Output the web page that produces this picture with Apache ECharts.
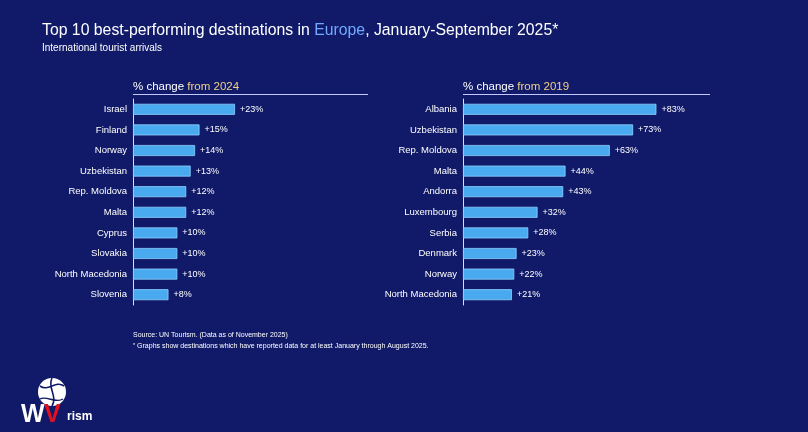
<!DOCTYPE html>
<html>
<head>
<meta charset="utf-8">
<script src="https://cdn.jsdelivr.net/npm/echarts@6/dist/echarts.min.js"></script>
<style>
  html, body { margin: 0; padding: 0; background: #101a68; }
  #main { width: 808px; height: 432px; }
</style>
</head>
<body>
<div id="main"></div>
<script>
// data
var left_names = ['Israel', 'Finland', 'Norway', 'Uzbekistan', 'Rep. Moldova', 'Malta', 'Cyprus', 'Slovakia', 'North Macedonia', 'Slovenia'];
var left_values = [23, 15, 14, 13, 12, 12, 10, 10, 10, 8];
var right_names = ['Albania', 'Uzbekistan', 'Rep. Moldova', 'Malta', 'Andorra', 'Luxembourg', 'Serbia', 'Denmark', 'Norway', 'North Macedonia'];
var right_values = [83, 73, 63, 44, 43, 32, 28, 23, 22, 21];

var FONT = '"Liberation Sans", Arial, sans-serif';
var BAR = '#4aaaf0';
var dom = document.getElementById('main');
var myChart = echarts.init(dom, null, { renderer: 'canvas' });

function yAxisFor(names, idx) {
    return {
        type: 'category',
        gridIndex: idx,
        data: names,
        inverse: true,
        axisLine: { show: true, lineStyle: { color: '#d8dcff', width: 1 } },
        axisTick: { show: false },
        axisLabel: { color: '#ffffff', fontSize: 9.5, fontFamily: FONT, margin: 6 }
    };
}
function barSeries(vals, idx) {
    return {
        type: 'bar',
        xAxisIndex: idx,
        yAxisIndex: idx,
        data: vals,
        barWidth: 11,
        itemStyle: { color: BAR, borderColor: '#8fd2ff', borderWidth: 0.8 },
        label: {
            show: true,
            position: 'right',
            distance: 5,
            color: '#ffffff',
            fontSize: 9,
            fontFamily: FONT,
            formatter: function (p) { return '+' + p.value + '%'; }
        }
    };
}

var option = {
    backgroundColor: '#101a68',
    animation: false,
    title: [
        {
            left: 42, top: 22.5, padding: 0,
            text: 'Top 10 best-performing destinations in {eu|Europe}, January-September 2025*',
            textStyle: {
                color: '#ffffff', fontSize: 15.8, fontWeight: 'normal', fontFamily: FONT,
                rich: { eu: { color: '#72a8ff', fontSize: 15.8, fontFamily: FONT } }
            }
        },
        {
            left: 42, top: 43, padding: 0,
            text: 'International tourist arrivals',
            textStyle: { color: '#ffffff', fontSize: 10, fontWeight: 'normal', fontFamily: FONT }
        },
        {
            left: 133, top: 81, padding: 0,
            text: '% change {y|from 2024}',
            textStyle: {
                color: '#ffffff', fontSize: 11.5, fontWeight: 'normal', fontFamily: FONT,
                rich: { y: { color: '#f0d08a', fontSize: 11.5, fontFamily: FONT } }
            }
        },
        {
            left: 463, top: 81, padding: 0,
            text: '% change {y|from 2019}',
            textStyle: {
                color: '#ffffff', fontSize: 11.5, fontWeight: 'normal', fontFamily: FONT,
                rich: { y: { color: '#f0d08a', fontSize: 11.5, fontFamily: FONT } }
            }
        },
        {
            left: 133, top: 331.5, padding: 0,
            text: 'Source: UN Tourism. (Data as of November 2025)',
            textStyle: { color: '#ffffff', fontSize: 7, fontWeight: 'normal', fontFamily: FONT }
        },
        {
            left: 133, top: 342, padding: 0,
            text: '{s|*} Graphs show destinations which have reported data for at least January through August 2025.',
            textStyle: {
                color: '#ffffff', fontSize: 7, fontWeight: 'normal', fontFamily: FONT,
                rich: { s: { color: '#ffffff', fontSize: 5.5, verticalAlign: 'top', padding: [0, 0, 3, 0] } }
            }
        }
    ],
    grid: [
        { left: 133, top: 99, width: 235, height: 206 },
        { left: 463, top: 99, width: 247, height: 206 }
    ],
    xAxis: [
        { type: 'value', gridIndex: 0, min: 0, max: 53, show: false },
        { type: 'value', gridIndex: 1, min: 0, max: 106, show: false }
    ],
    yAxis: [yAxisFor(left_names, 0), yAxisFor(right_names, 1)],
    series: [barSeries(left_values, 0), barSeries(right_values, 1)],
    graphic: [
        { type: 'line', shape: { x1: 133, y1: 94.5, x2: 368, y2: 94.5 }, style: { stroke: '#c4c8ff', lineWidth: 1 } },
        { type: 'line', shape: { x1: 463, y1: 94.5, x2: 710, y2: 94.5 }, style: { stroke: '#c4c8ff', lineWidth: 1 } },
        // logo: globe + wordmark
        { type: 'circle', shape: { cx: 52, cy: 392, r: 14 }, style: { fill: '#ffffff' } },
        { type: 'bezierCurve', shape: { x1: 40, y1: 386, x2: 64, y2: 386, cpx1: 48, cpy1: 392, cpx2: 56, cpy2: 380 }, style: { stroke: '#101a68', lineWidth: 1.6, fill: null } },
        { type: 'bezierCurve', shape: { x1: 52, y1: 378, x2: 52, y2: 406, cpx1: 47, cpy1: 388, cpx2: 58, cpy2: 396 }, style: { stroke: '#101a68', lineWidth: 1.6, fill: null } },
        { type: 'bezierCurve', shape: { x1: 40, y1: 399, x2: 63, y2: 399, cpx1: 46, cpy1: 395, cpx2: 56, cpy2: 404 }, style: { stroke: '#101a68', lineWidth: 1.4, fill: null } },
        { type: 'text', left: 21, top: 403, style: { text: 'W', fill: '#ffffff', font: 'bold 25px "Liberation Sans", Arial, sans-serif' } },
        { type: 'text', left: 44, top: 403, style: { text: 'V', fill: '#e3101f', font: 'bold 25px "Liberation Sans", Arial, sans-serif' } },
        { type: 'text', left: 67, top: 411, style: { text: 'rism', fill: '#ffffff', font: 'bold 12px "Liberation Sans", Arial, sans-serif' } }
    ]
};

if (option && typeof option === 'object') {
    myChart.setOption(option);
}
</script>
</body>
</html>
